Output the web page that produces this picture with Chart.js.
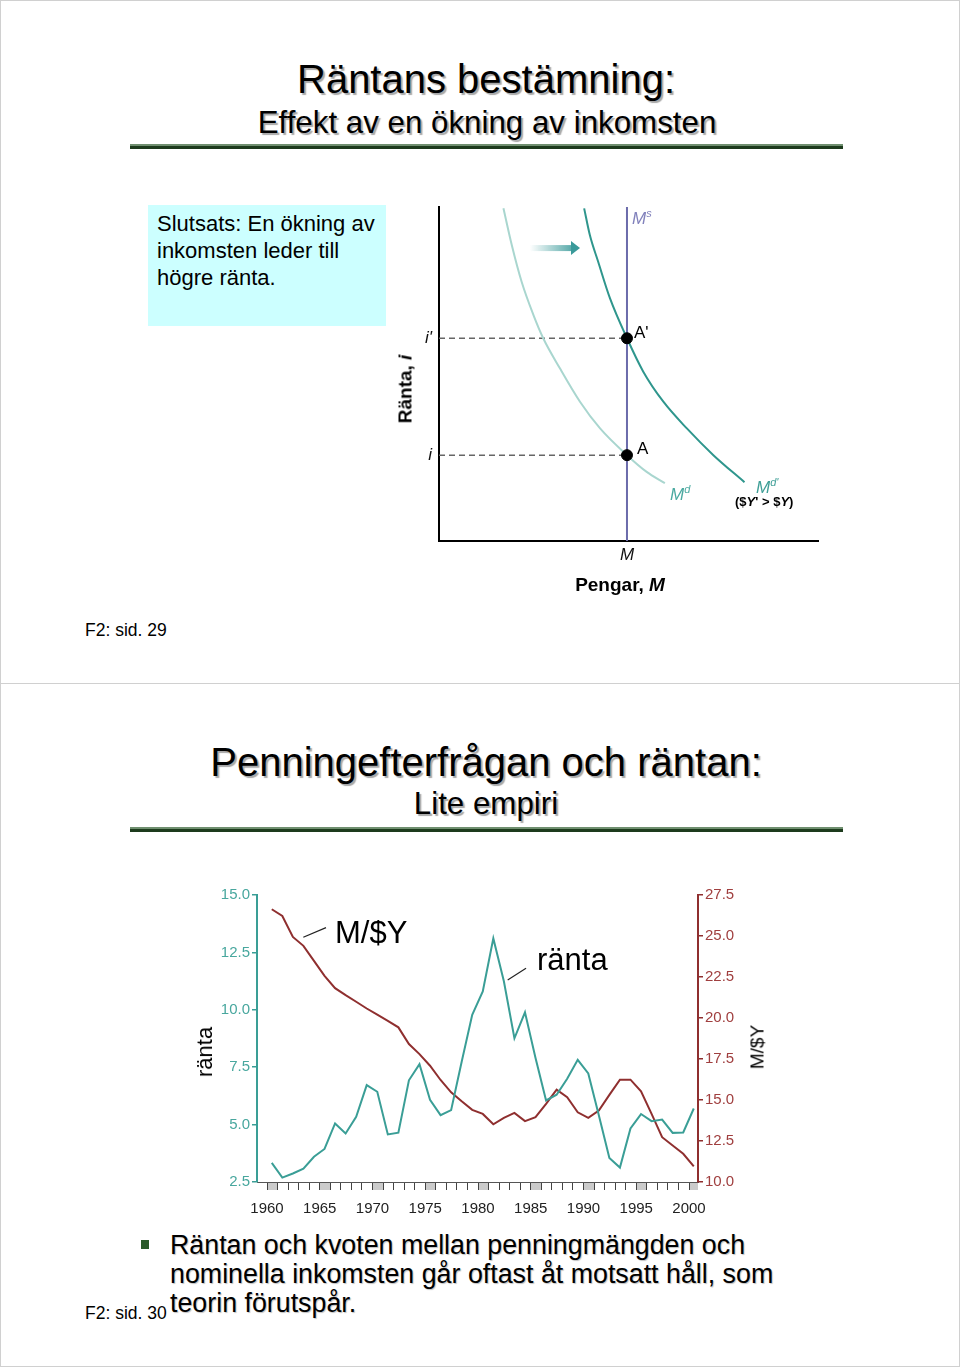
<!DOCTYPE html>
<html lang="sv">
<head>
<meta charset="UTF-8">
<title>Räntans bestämning - Penningefterfrågan och räntan</title>
<script src="https://cdn.jsdelivr.net/npm/chart.js"></script>
<style>
    body {
        margin: 0;
        background: #fff;
        font-family: "Liberation Sans", Arial, sans-serif;
        color: #000;
    }
    #page {
        position: relative;
        width: 960px;
        height: 1367px;
        overflow: hidden;
    }
    .slide {
        position: absolute;
        left: 0;
        width: 958px;
        border: 1px solid #d0d0d0;
    }
    .abs {
        position: absolute;
        white-space: nowrap;
        line-height: 1;
    }
    .center { transform: translateX(-50%); }
    .rot { transform: translate(-50%, -50%) rotate(-90deg); }
    .title { font-size: 40px; text-shadow: 2px 2px 1px #a8a8a8; }
    .subtitle { font-size: 31.3px; text-shadow: 2px 2px 1px #a8a8a8; }
    .rule {
        position: absolute;
        left: 130px;
        width: 713px;
        height: 2px;
        background: #6f8f6f;
        border-bottom: 3px solid #1d3b1d;
    }
    .pagenum { font-size: 17.5px; }
    canvas { position: absolute; }
    #box {
        position: absolute;
        left: 148px; top: 205px;
        width: 229px; height: 116px;
        padding: 5px 0 0 9px;
        background: #ccffff;
        font-size: 22px;
        line-height: 27px;
    }
    .lbl { font-size: 17px; }
    .it { font-style: italic; }
    sup { font-size: 11px; vertical-align: 7px; }
    #bullet {
        position: absolute;
        left: 170px; top: 1231px;
        font-size: 26.8px;
        line-height: 29px;
        text-shadow: 1px 1px 1px #c0c0c0;
    }
    #bulletMark {
        position: absolute;
        left: 141px; top: 1240px;
        width: 8px; height: 9px;
        background: #2a5a2a;
    }
</style>
</head>
<body>
<div id="page">
    <div class="slide" style="top:0; height:682px;"></div>
    <div class="slide" style="top:683px; height:682px;"></div>

    <!-- Slide 29 -->
    <div class="abs title center" style="left:486px; top:59px;">Räntans bestämning:</div>
    <div class="abs subtitle center" style="left:487px; top:107px;">Effekt av en ökning av inkomsten</div>
    <div class="rule" style="top:144px;"></div>

    <div id="box">Slutsats: En ökning av<br>inkomsten leder till<br>högre ränta.</div>

    <canvas id="marketChart" width="450" height="420" style="left:380px; top:195px;"></canvas>

    <div class="abs lbl it" style="left:632px; top:208px; color:#8282bc;">M<sup>s</sup></div>
    <div class="abs lbl" style="left:634px; top:324px;">A'</div>
    <div class="abs lbl" style="left:637px; top:440px;">A</div>
    <div class="abs lbl it" style="left:670px; top:484px; color:#4aa9a0;">M<sup>d</sup></div>
    <div class="abs lbl it" style="left:756px; top:477px; color:#3f9f97;">M<sup>d'</sup></div>
    <div class="abs" style="left:735px; top:495px; font-size:13px; font-weight:bold;">($<span class="it">Y</span>' &gt; $<span class="it">Y</span>)</div>
    <div class="abs center" style="left:620px; top:575px; font-size:19px; font-weight:bold;">Pengar, <span class="it">M</span></div>
    <div class="abs rot" style="left:405px; top:389px; font-size:19px; font-weight:bold;">Ränta, <span class="it">i</span></div>

    <div class="abs pagenum" style="left:85px; top:622px;">F2: sid. 29</div>

    <!-- Slide 30 -->
    <div class="abs title center" style="left:486px; top:742px;">Penningefterfrågan och räntan:</div>
    <div class="abs subtitle center" style="left:486px; top:788px;">Lite empiri</div>
    <div class="rule" style="top:827px;"></div>

    <canvas id="empiriChart" width="590" height="350" style="left:190px; top:870px;"></canvas>

    <div class="abs rot" style="left:205px; top:1052px; font-size:22px;">ränta</div>
    <div class="abs rot" style="left:757px; top:1047px; font-size:19px;">M/$Y</div>
    <div class="abs" style="left:335px; top:917px; font-size:31px;">M/$Y</div>
    <div class="abs" style="left:537px; top:944px; font-size:31px;">ränta</div>

    <div id="bulletMark"></div>
    <div id="bullet">Räntan och kvoten mellan penningmängden och<br>nominella inkomsten går oftast åt motsatt håll, som<br>teorin förutspår.</div>
    <div class="abs pagenum" style="left:85px; top:1305px;">F2: sid. 30</div>
</div>

<script>
    // ---- top diagram: money market (arbitrary units 0-100) ----
    const moneySupply = 49.6;
    const rateLow = 25.7;
    const rateHigh = 60.7;
    const rateTickLabels = ['i', "i'"];
    const mdQuantity = [17.0, 19.2, 21.8, 24.9, 27.5, 31.9, 37.2, 42.5, 49.6, 54.8, 59.6];
    const mdRate = [99.6, 88.6, 77.6, 67.7, 60.7, 51.7, 41.7, 33.7, 25.7, 20.7, 17.3];
    const mdShiftQuantity = [38.3, 39.8, 42.0, 45.1, 49.6, 53.9, 59.2, 65.4, 72.4, 80.6];
    const mdShiftRate = [99.6, 91.6, 83.6, 72.7, 60.7, 50.7, 41.7, 33.7, 25.7, 17.6];

    // ---- bottom chart: interest rate vs M/$Y ----
    const years = [1960, 1961, 1962, 1963, 1964, 1965, 1966, 1967, 1968, 1969,
                   1970, 1971, 1972, 1973, 1974, 1975, 1976, 1977, 1978, 1979,
                   1980, 1981, 1982, 1983, 1984, 1985, 1986, 1987, 1988, 1989,
                   1990, 1991, 1992, 1993, 1994, 1995, 1996, 1997, 1998, 1999, 2000];
    const rateValues = [3.33, 2.69, 2.87, 3.08, 3.6, 3.94, 5.05, 4.61, 5.34, 6.72,
                        6.43, 4.57, 4.65, 6.93, 7.63, 6.08, 5.41, 5.63, 7.74, 9.78,
                        10.8, 13.11, 11.24, 8.76, 9.89, 7.9, 6.05, 6.3, 7.0, 7.82,
                        7.23, 5.41, 3.55, 3.13, 4.83, 5.46, 5.15, 5.22, 4.64, 4.66, 5.7];
    const moneyIncomeRatio = [26.63, 26.22, 24.94, 24.4, 23.48, 22.57, 21.82, 21.39, 20.99, 20.58,
                              20.2, 19.83, 19.43, 18.41, 17.8, 17.09, 16.22, 15.47, 14.92, 14.4,
                              14.15, 13.52, 13.91, 14.21, 13.71, 13.95, 14.76, 15.63, 15.17, 14.25,
                              13.91, 14.36, 15.31, 16.24, 16.24, 15.53, 14.15, 12.73, 12.23, 11.72, 10.95];
    const shadedYears = [1960, 1965, 1970, 1975, 1980, 1985, 1990, 1995, 2000];
    const rateTicks = [2.5, 5, 7.5, 10, 12.5, 15];
    const ratioTicks = [10, 12.5, 15, 17.5, 20, 22.5, 25, 27.5];

    const teal = '#3a9e96';
    const tealText = '#48a79e';
    const red = '#8f2f2f';
    const redText = '#a03f3f';

    Chart.defaults.font.family = '"Liberation Sans", Arial, sans-serif';
    Chart.defaults.color = '#111';

    function toPoints(xs, ys) {
        return xs.map((x, i) => ({ x: x, y: ys[i] }));
    }

    // gradient arrow showing the demand shift
    const shiftArrow = { from: 24, to: 37.2, y: 87.7 };
    const arrowPlugin = {
        id: 'shiftArrow',
        afterDatasetsDraw(chart) {
            const { ctx, scales } = chart;
            const x0 = scales.x.getPixelForValue(shiftArrow.from);
            const x1 = scales.x.getPixelForValue(shiftArrow.to);
            const y = scales.y.getPixelForValue(shiftArrow.y);
            const head = 9;
            const grad = ctx.createLinearGradient(x0, 0, x1, 0);
            grad.addColorStop(0, 'rgba(58,154,154,0)');
            grad.addColorStop(1, 'rgba(58,154,154,1)');
            ctx.save();
            ctx.fillStyle = grad;
            ctx.fillRect(x0, y - 3, x1 - head - x0, 6);
            ctx.fillStyle = '#3a9a9a';
            ctx.beginPath();
            ctx.moveTo(x1 - head, y - 7);
            ctx.lineTo(x1, y);
            ctx.lineTo(x1 - head, y + 7);
            ctx.closePath();
            ctx.fill();
            ctx.restore();
        }
    };

    new Chart(document.getElementById('marketChart'), {
        type: 'scatter',
        data: {
            datasets: [
                {
                    label: 'A, A\'',
                    data: [{ x: moneySupply, y: rateLow }, { x: moneySupply, y: rateHigh }],
                    pointRadius: 5.5,
                    pointBackgroundColor: '#000',
                    pointBorderColor: '#000',
                    showLine: false,
                    order: 0
                },
                {
                    label: 'Ms',
                    data: [{ x: moneySupply, y: 0 }, { x: moneySupply, y: 100 }],
                    showLine: true,
                    borderColor: '#6c6cab',
                    borderWidth: 2,
                    pointRadius: 0,
                    order: 2
                },
                {
                    label: 'Md',
                    data: toPoints(mdQuantity, mdRate),
                    showLine: true,
                    borderColor: '#a9d6cf',
                    borderWidth: 2,
                    pointRadius: 0,
                    cubicInterpolationMode: 'monotone',
                    order: 3
                },
                {
                    label: "Md'",
                    data: toPoints(mdShiftQuantity, mdShiftRate),
                    showLine: true,
                    borderColor: '#2f968d',
                    borderWidth: 2,
                    pointRadius: 0,
                    cubicInterpolationMode: 'monotone',
                    order: 3
                },
                {
                    label: "i'",
                    data: [{ x: 0, y: rateHigh }, { x: moneySupply, y: rateHigh }],
                    showLine: true,
                    borderColor: '#666',
                    borderWidth: 1.5,
                    borderDash: [6, 4],
                    pointRadius: 0,
                    order: 4
                },
                {
                    label: 'i',
                    data: [{ x: 0, y: rateLow }, { x: moneySupply, y: rateLow }],
                    showLine: true,
                    borderColor: '#666',
                    borderWidth: 1.5,
                    borderDash: [6, 4],
                    pointRadius: 0,
                    order: 4
                }
            ]
        },
        options: {
            responsive: false,
            animation: false,
            devicePixelRatio: 1,
            layout: { autoPadding: false, padding: { left: 39, top: 12, right: 12, bottom: 44 } },
            plugins: { legend: { display: false }, tooltip: { enabled: false } },
            scales: {
                x: {
                    type: 'linear', min: 0, max: 100,
                    afterBuildTicks: s => { s.ticks = [{ value: moneySupply }]; },
                    afterFit: s => { s.height = 30; s.paddingLeft = 0; s.paddingRight = 0; },
                    ticks: {
                        callback: () => 'M',
                        font: { size: 17, style: 'italic' },
                        color: '#111',
                        padding: 4
                    },
                    grid: { display: false, drawTicks: false },
                    border: { display: true, color: '#000', width: 2 }
                },
                y: {
                    type: 'linear', min: 0, max: 100,
                    afterBuildTicks: s => { s.ticks = [{ value: rateLow }, { value: rateHigh }]; },
                    afterFit: s => { s.width = 20; s.paddingTop = 0; s.paddingBottom = 0; },
                    ticks: {
                        callback: (v, i) => rateTickLabels[i],
                        font: { size: 17, style: 'italic' },
                        color: '#111',
                        padding: 7
                    },
                    grid: { display: false, drawTicks: false },
                    border: { display: true, color: '#000', width: 2 }
                }
            }
        },
        plugins: [arrowPlugin]
    });

    // shaded year blocks under the time axis + label leader lines
    const leaders = [
        { axis: 'yMoney', x: [1963.44, 1965.59], y: [24.92, 25.51] },
        { axis: 'yRate', x: [1982.81, 1984.55], y: [11.3, 11.81] }
    ];
    const empiriPlugin = {
        id: 'empiriDecor',
        beforeDraw(chart) {
            const { ctx, scales, chartArea } = chart;
            const xs = scales.x;
            ctx.save();
            ctx.fillStyle = '#cbcbcb';
            shadedYears.forEach(yr => {
                const a = xs.getPixelForValue(yr);
                const b = xs.getPixelForValue(Math.min(yr + 1, xs.max));
                ctx.fillRect(a, chartArea.bottom + 1, b - a, 7);
            });
            ctx.restore();
        },
        afterDatasetsDraw(chart) {
            const { ctx, scales } = chart;
            ctx.save();
            ctx.strokeStyle = '#222';
            ctx.lineWidth = 1.2;
            leaders.forEach(l => {
                ctx.beginPath();
                ctx.moveTo(scales.x.getPixelForValue(l.x[0]), scales[l.axis].getPixelForValue(l.y[0]));
                ctx.lineTo(scales.x.getPixelForValue(l.x[1]), scales[l.axis].getPixelForValue(l.y[1]));
                ctx.stroke();
            });
            ctx.restore();
        }
    };

    // annual values are plotted at mid-year
    const midYear = years.map(y => y + 0.45);

    new Chart(document.getElementById('empiriChart'), {
        type: 'line',
        data: {
            datasets: [
                {
                    label: 'ränta',
                    data: toPoints(midYear, rateValues),
                    yAxisID: 'yRate',
                    borderColor: teal,
                    borderWidth: 2,
                    pointRadius: 0,
                    tension: 0
                },
                {
                    label: 'M/$Y',
                    data: toPoints(midYear, moneyIncomeRatio),
                    yAxisID: 'yMoney',
                    borderColor: red,
                    borderWidth: 2,
                    pointRadius: 0,
                    tension: 0
                }
            ]
        },
        options: {
            responsive: false,
            animation: false,
            devicePixelRatio: 1,
            layout: { padding: { left: 0, top: 25, right: 0, bottom: 0 } },
            plugins: { legend: { display: false }, tooltip: { enabled: false } },
            scales: {
                x: {
                    type: 'linear', min: 1959.05, max: 2000.85,
                    afterBuildTicks: s => { s.ticks = years.map(v => ({ value: v })); },
                    afterFit: s => { s.height = 38; },
                    ticks: {
                        autoSkip: false,
                        maxRotation: 0,
                        callback: v => (v % 5 === 0 ? String(v) : ''),
                        font: { size: 15 },
                        color: '#222',
                        padding: 10
                    },
                    grid: { display: true, drawOnChartArea: false, drawTicks: true, tickLength: 8, color: '#444' },
                    border: { display: true, color: '#555', width: 1 }
                },
                yRate: {
                    type: 'linear', position: 'left', min: 2.5, max: 15,
                    afterBuildTicks: s => { s.ticks = rateTicks.map(v => ({ value: v })); },
                    afterFit: s => { s.width = 67; },
                    ticks: {
                        callback: v => v.toFixed(1),
                        font: { size: 15 },
                        color: tealText,
                        padding: 2
                    },
                    grid: { display: true, drawOnChartArea: false, drawTicks: true, tickLength: 5, color: teal, lineWidth: 1.5 },
                    border: { display: true, color: teal, width: 2 }
                },
                yMoney: {
                    type: 'linear', position: 'right', min: 10, max: 27.5,
                    afterBuildTicks: s => { s.ticks = ratioTicks.map(v => ({ value: v })); },
                    afterFit: s => { s.width = 82; },
                    ticks: {
                        callback: v => v.toFixed(1),
                        font: { size: 15 },
                        color: redText,
                        padding: 2
                    },
                    grid: { display: true, drawOnChartArea: false, drawTicks: true, tickLength: 5, color: red, lineWidth: 1.5 },
                    border: { display: true, color: red, width: 2 }
                }
            }
        },
        plugins: [empiriPlugin]
    });
</script>
</body>
</html>
